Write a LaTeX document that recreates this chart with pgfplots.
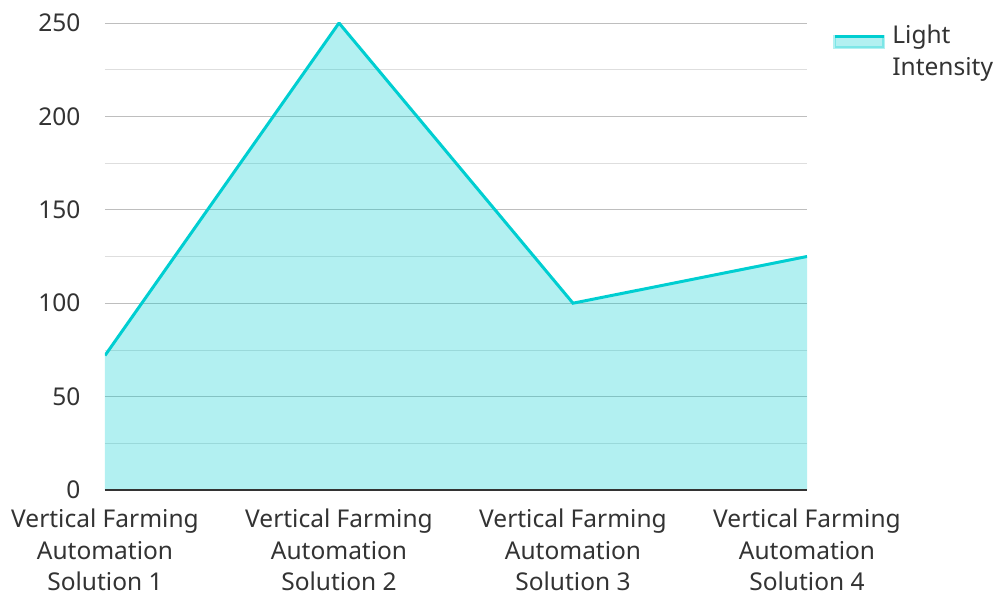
\documentclass[border=0pt]{standalone}
\usepackage{pgfplots}
\pgfplotsset{compat=1.18}
\usepackage{fontspec}
\setmainfont{Noto Sans}
\definecolor{turq}{RGB}{0,206,209}
\definecolor{txt}{RGB}{51,51,51}
\definecolor{majg}{RGB}{190,190,190}
\definecolor{ming}{RGB}{222,222,222}
\begin{document}
\begin{tikzpicture}[x=1pt,y=1pt]
\begin{axis}[name=ax,
  scale only axis, width=702pt, height=467pt,
  xmin=0, xmax=3, ymin=0, ymax=250,
  xtick={0,1,2,3},
  xticklabels={{Vertical Farming\\Automation\\Solution 1},{Vertical Farming\\Automation\\Solution 2},{Vertical Farming\\Automation\\Solution 3},{Vertical Farming\\Automation\\Solution 4}},
  xticklabel style={align=center, font=\fontsize{24.5}{31.5}\selectfont, text=txt, inner sep=0pt, yshift=-19pt},
  ytick={0,50,...,250},
  minor ytick={25,75,...,225},
  yticklabel style={font=\fontsize{24.5}{28}\selectfont, text=txt, xshift=-21pt},
  /pgf/number format/assume math mode=true,
  ymajorgrids, yminorgrids,
  major grid style={majg, line width=0.8pt},
  minor grid style={ming, line width=0.8pt},
  major tick length=0pt, minor tick length=0pt,
  axis line style={draw=none},
  legend style={at={(1.033,1.005)}, anchor=north west, draw=none, fill=none,
    font=\fontsize{24.5}{32}\selectfont, text=txt, cells={align=left}, column sep=5pt},
  legend cell align=left,
  legend image code/.code={
    \fill[turq, opacity=0.3] (0pt,3pt) rectangle (49pt,14pt);
    \draw[turq, line width=3pt] (0pt,14pt) -- (49pt,14pt);
  },
]
\addplot[draw=none, fill=turq, fill opacity=0.3, forget plot]
  coordinates {(0,72) (1,250) (2,100) (3,125)} \closedcycle;
\addplot[turq, line width=3pt]
  coordinates {(0,72) (1,250) (2,100) (3,125)};
\addlegendentry{Light\\Intensity}
\draw[txt, line width=1.5pt] (axis cs:0,0) -- (axis cs:3,0);
\end{axis}
\pgfresetboundingbox
\useasboundingbox ([shift={(-105pt,-104pt)}]ax.south west) rectangle ([shift={(190pt,23pt)}]ax.north east);
\end{tikzpicture}
\end{document}
